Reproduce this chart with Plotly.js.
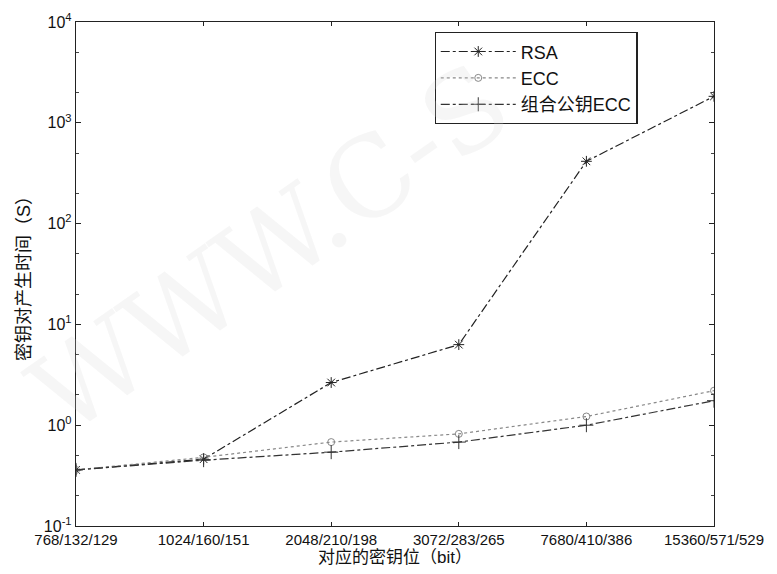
<!DOCTYPE html>
<html><head><meta charset="utf-8">
<script src="https://cdn.plot.ly/plotly-3.0.1.min.js"></script>
<style>body{margin:0;background:#fff}#c{width:777px;height:574px}</style>
</head><body><div id="c"></div>
<script>
const categories = ["768/132/129","1024/160/151","2048/210/198","3072/283/265","7680/410/386","15360/571/529"];
const rsa = [0.36, 0.46, 2.65, 6.3, 415, 1830];
const ecc = [0.36, 0.48, 0.68, 0.82, 1.22, 2.2];
const combEcc = [0.36, 0.45, 0.54, 0.68, 1.0, 1.75];
const yTickVals = [0.1, 1, 10, 100, 1000, 10000];
const yTickText = ["10<sup>-1</sup>","10<sup>0</sup>","10<sup>1</sup>","10<sup>2</sup>","10<sup>3</sup>","10<sup>4</sup>"];
const xs = categories.map((_, i) => i);
const cjk = '"Liberation Sans", Arial, "Noto Sans CJK SC", sans-serif';
const traces = [
  {x: xs, y: rsa, name: 'RSA', mode: 'lines+markers',
   line: {color: '#222', width: 1.2, dash: 'dashdot'},
   marker: {symbol: 'asterisk-open', size: 9, color: '#222', line: {width: 1, color: '#222'}}},
  {x: xs, y: ecc, name: 'ECC', mode: 'lines+markers',
   line: {color: '#888', width: 1.2, dash: 'dot'},
   marker: {symbol: 'circle-open', size: 7, color: '#888', line: {width: 1, color: '#888'}}},
  {x: xs, y: combEcc, name: '组合公钥ECC', mode: 'lines+markers',
   line: {color: '#333', width: 1.2, dash: 'dashdot'},
   marker: {symbol: 'cross-thin-open', size: 10, color: '#333', line: {width: 1, color: '#333'}}}
];
const layout = {
  width: 777, height: 574,
  margin: {l: 76, r: 63, t: 22, b: 48},
  paper_bgcolor: '#fff', plot_bgcolor: '#fff',
  font: {family: cjk, color: '#111', size: 14},
  showlegend: true,
  legend: {x: 0.562, y: 0.98, xanchor: 'left', yanchor: 'top',
    bordercolor: '#222', borderwidth: 1.2, bgcolor: '#fff', itemwidth: 75,
    font: {family: cjk, size: 18, color: '#111'}, tracegroupgap: 2},
  xaxis: {
    range: [0, 5], tickmode: 'array', tickvals: xs, ticktext: categories,
    ticks: 'inside', ticklen: 4, tickcolor: '#222',
    showline: true, linecolor: '#222', linewidth: 1.2, mirror: 'ticks',
    showgrid: false, zeroline: false,
    tickfont: {family: cjk, size: 15, color: '#111'},
    title: {text: '对应的密钥位（bit）', font: {family: cjk, size: 17, color: '#111'}, standoff: 2}
  },
  yaxis: {
    type: 'log', range: [-1, 4], tickmode: 'array', tickvals: yTickVals, ticktext: yTickText,
    ticks: 'inside', ticklen: 5, tickcolor: '#222',
    minor: {ticks: 'inside', ticklen: 3, tickcolor: '#444', showgrid: false},
    showline: true, linecolor: '#222', linewidth: 1.2, mirror: 'ticks',
    showgrid: false, zeroline: false,
    tickfont: {family: cjk, size: 16, color: '#111'},
    title: {text: '密钥对产生时间（S）', font: {family: cjk, size: 18, color: '#111'}, standoff: 8}
  },
  annotations: [
    {text: 'WWW.C-S', xref: 'paper', yref: 'paper', x: 0.72, y: 0.55, showarrow: false,
     textangle: -35, font: {family: '"DejaVu Serif", serif', size: 110, color: 'rgba(215,215,215,0.22)'}}
  ]
};
Plotly.newPlot('c', traces, layout, {displayModeBar: false, staticPlot: true});
</script></body></html>
